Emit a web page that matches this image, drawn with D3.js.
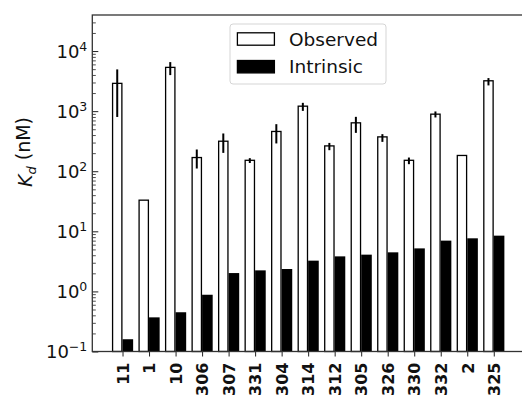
<!DOCTYPE html>
<html>
<head>
<meta charset="utf-8">
<script src="https://cdn.jsdelivr.net/npm/d3@7"></script>
<style>
  body { margin: 0; background: #fff; }
  svg { display: block; font-family: "DejaVu Sans", sans-serif; }
</style>
</head>
<body>
<svg width="522" height="395"></svg>
<script>
var width = 522, height = 395;

// data
var labels = ["11", "1", "10", "306", "307", "331", "304", "314", "312", "305", "326", "330", "332", "2", "325"];
var observed = [2900, 33, 5350, 169, 316, 152, 459, 1210, 264, 639, 373, 152, 891, 183, 3200];
var obsLow = [800, null, 3980, 111, 202, 137, 290, 1010, 224, 435, 308, 131, 785, null, 2680];
var obsHigh = [4950, null, 6550, 230, 425, 165, 607, 1375, 296, 804, 414, 169, 988, null, 3550];
var intrinsic = [0.16, 0.37, 0.45, 0.88, 2.02, 2.24, 2.36, 3.25, 3.83, 4.09, 4.47, 5.2, 7.0, 7.65, 8.47];
var majorTicks = [0.1, 1, 10, 100, 1000, 10000];
var exponents = ["\u22121", "0", "1", "2", "3", "4"];

var plotLeft = 92.3, plotRight = 524, plotTop = 15, plotBottom = 351.5;
var font = "DejaVu Sans";

var svg = d3.select("svg");

var x = d3.scaleLinear().domain([-1.14, 15.14]).range([plotLeft, plotRight]);
var y = d3.scaleLog().domain([0.1, Math.pow(10, 4.6)]).range([plotBottom, plotTop]);

var bw = x(0.4) - x(0);

// minor ticks
var minor = [];
majorTicks.forEach(function(b){
  for (var k = 2; k <= 9; k++) {
    if (b * k <= y.domain()[1]) minor.push(b * k);
  }
});

// observed bars
svg.append("g")
  .selectAll("rect")
  .data(observed)
  .enter()
  .append("rect")
  .attr("x", function(d, i){ return x(i) - bw + 0.65; })
  .attr("y", function(d){ return y(d); })
  .attr("width", bw - 1.3)
  .attr("height", function(d){ return plotBottom - y(d); })
  .attr("fill", "#fff")
  .attr("stroke", "#000")
  .attr("stroke-width", 1.3);

// intrinsic bars
svg.append("g")
  .selectAll("rect")
  .data(intrinsic)
  .enter()
  .append("rect")
  .attr("x", function(d, i){ return x(i); })
  .attr("y", function(d){ return y(d); })
  .attr("width", bw)
  .attr("height", function(d){ return plotBottom - y(d); })
  .attr("fill", "#000");

// error bars
svg.append("g")
  .selectAll("line")
  .data(observed.map(function(d, i){ return {i: i, lo: obsLow[i], hi: obsHigh[i]}; })
    .filter(function(d){ return d.lo !== null; }))
  .enter()
  .append("line")
  .attr("x1", function(d){ return x(d.i) - bw / 2; })
  .attr("x2", function(d){ return x(d.i) - bw / 2; })
  .attr("y1", function(d){ return y(d.lo); })
  .attr("y2", function(d){ return y(d.hi); })
  .attr("stroke", "#000")
  .attr("stroke-width", 2);

// y axis minor ticks (inward)
svg.append("g")
  .attr("transform", "translate(" + plotLeft + ",0)")
  .call(d3.axisLeft(y).tickValues(minor).tickSizeInner(-3.5).tickSizeOuter(0).tickFormat(""))
  .call(function(g){ g.select(".domain").remove(); })
  .selectAll("line").attr("stroke", "#222").attr("stroke-width", 0.8);

// y axis major ticks
var yAxis = svg.append("g")
  .attr("transform", "translate(" + plotLeft + ",0)")
  .call(d3.axisLeft(y).tickValues(majorTicks).tickSizeInner(-6).tickSizeOuter(0).tickPadding(5).tickFormat(""))
  .attr("font-family", font);
yAxis.select(".domain").remove();
yAxis.selectAll("line").attr("stroke", "#222").attr("stroke-width", 1);
yAxis.selectAll(".tick text")
  .attr("fill", "#111")
  .attr("font-size", "18px")
  .attr("dy", "0.36em")
  .each(function(d, i){
    var t = d3.select(this);
    t.append("tspan").text("10");
    t.append("tspan").attr("dy", "-0.6em").attr("font-size", "12.5px").text(exponents[i]);
  });

// x axis
var xAxis = svg.append("g")
  .attr("transform", "translate(0," + plotBottom + ")")
  .call(d3.axisBottom(x).tickValues(d3.range(labels.length)).tickSizeInner(5).tickSizeOuter(0)
    .tickFormat(function(i){ return labels[i]; }))
  .attr("font-family", font);
xAxis.select(".domain").remove();
xAxis.selectAll("line").attr("stroke", "#222").attr("stroke-width", 1);
xAxis.selectAll(".tick text")
  .attr("transform", "rotate(-90)")
  .attr("text-anchor", "end")
  .attr("x", -11)
  .attr("y", 0)
  .attr("dy", "0.36em")
  .attr("font-size", "16px")
  .attr("font-weight", "bold")
  .attr("fill", "#111");

// spines
svg.append("rect")
  .attr("x", plotLeft)
  .attr("y", plotTop)
  .attr("width", plotRight - plotLeft)
  .attr("height", plotBottom - plotTop)
  .attr("fill", "none")
  .attr("stroke", "#333")
  .attr("stroke-width", 1.3);

// y label
svg.append("text")
  .attr("transform", "translate(32,152) rotate(-90)")
  .attr("text-anchor", "middle")
  .attr("font-family", font)
  .attr("font-size", "19px")
  .attr("fill", "#111")
  .call(function(t){
    t.append("tspan").attr("font-style", "italic").text("K");
    t.append("tspan").attr("font-style", "italic").attr("font-size", "13px").attr("dy", "0.3em").text("d");
    t.append("tspan").attr("dy", "-0.3em").text(" (nM)");
  });

// legend
var legend = svg.append("g").attr("font-family", font);
legend.append("rect")
  .attr("x", 230).attr("y", 24)
  .attr("width", 156).attr("height", 60)
  .attr("rx", 3)
  .attr("fill", "#fff").attr("fill-opacity", 0.8)
  .attr("stroke", "#d5d5d5");
var items = [{name: "Observed", fill: "#fff"}, {name: "Intrinsic", fill: "#000"}];
items.forEach(function(d, i){
  var cy = 39 + i * 27.7;
  legend.append("rect")
    .attr("x", 237.4).attr("y", cy - 6.2)
    .attr("width", 37).attr("height", 12.4)
    .attr("fill", d.fill)
    .attr("stroke", "#000")
    .attr("stroke-width", 1.3);
  legend.append("text")
    .attr("x", 289).attr("y", cy)
    .attr("dy", "0.36em")
    .attr("font-size", "18.5px")
    .attr("fill", "#111")
    .text(d.name);
});
</script>
</body>
</html>
